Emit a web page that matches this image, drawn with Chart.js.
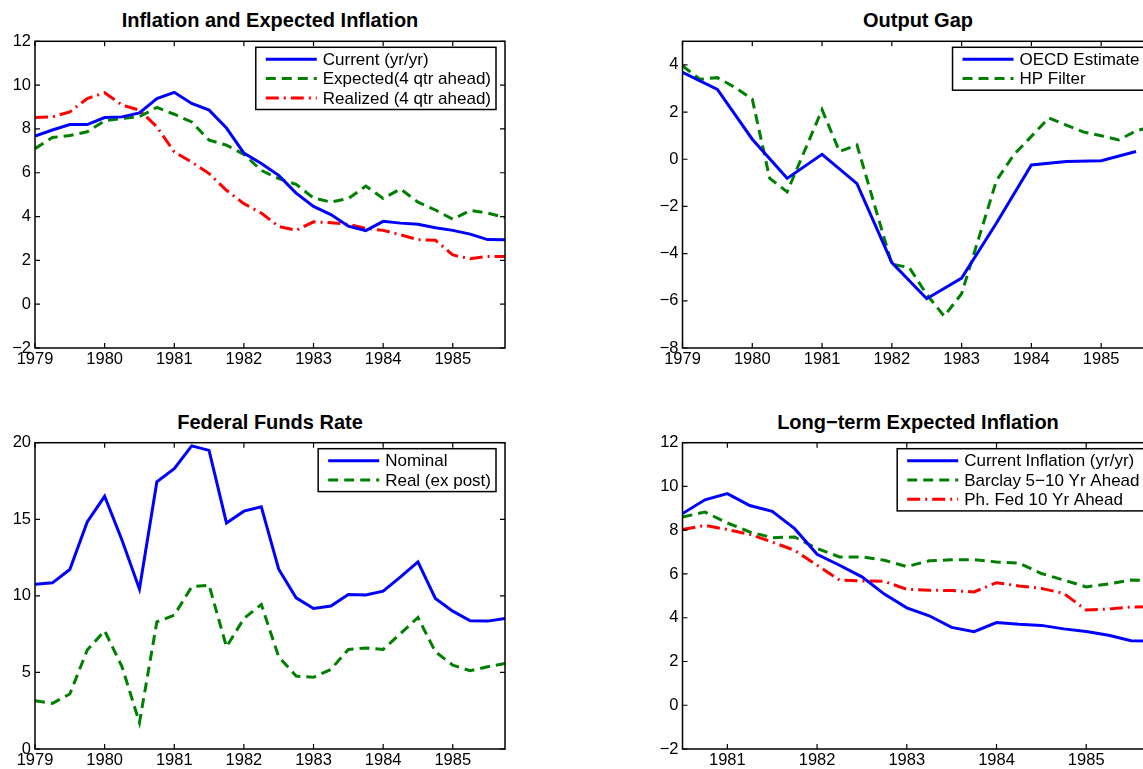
<!DOCTYPE html>
<html><head><meta charset="utf-8">
<script src="https://cdn.jsdelivr.net/npm/chart.js@4.4.1/dist/chart.umd.min.js"></script>
<style>
html,body{margin:0;padding:0;background:#fff;width:1143px;height:769px;overflow:hidden;position:relative}
canvas{position:absolute}
.title{position:absolute;font:bold 20px "Liberation Sans",Arial,sans-serif;text-align:center;white-space:nowrap;color:#000;height:24px;line-height:24px}
</style></head><body>
<div class="title" style="left:35px;top:8px;width:470px">Inflation and Expected Inflation</div>
<div class="title" style="left:682.5px;top:8px;width:471px">Output Gap</div>
<div class="title" style="left:35px;top:410px;width:470px">Federal Funds Rate</div>
<div class="title" style="left:682.5px;top:410px;width:471px">Long−term Expected Inflation</div>
<canvas id="c1" width="525" height="385" style="left:0px;top:0px"></canvas>
<canvas id="c2" width="526" height="385" style="left:647px;top:0px"></canvas>
<canvas id="c3" width="525" height="385" style="left:0px;top:400px"></canvas>
<canvas id="c4" width="526" height="385" style="left:647px;top:400px"></canvas>
<script>
// ---- categories (time axis) ----
const quarters = [1979,1979.25,1979.5,1979.75,1980,1980.25,1980.5,1980.75,1981,1981.25,1981.5,1981.75,
  1982,1982.25,1982.5,1982.75,1983,1983.25,1983.5,1983.75,1984,1984.25,1984.5,1984.75,1985,1985.25,1985.5,1985.75];
const halfYears = [1979,1979.5,1980,1980.5,1981,1981.5,1982,1982.5,1983,1983.5,1984,1984.5,1985,1985.5];
const quartersLT = [1980.5,1980.75,1981,1981.25,1981.5,1981.75,1982,1982.25,1982.5,1982.75,1983,1983.25,
  1983.5,1983.75,1984,1984.25,1984.5,1984.75,1985,1985.25,1985.5,1985.75];

// ---- series values ----
const currentInflation = [7.67,7.95,8.2,8.2,8.52,8.55,8.73,9.39,9.67,9.16,8.86,8.04,6.9,6.42,5.88,5.07,
  4.46,4.09,3.56,3.36,3.78,3.7,3.65,3.49,3.37,3.2,2.95,2.94];
const expectedInflation = [7.1,7.61,7.7,7.87,8.37,8.48,8.56,8.98,8.67,8.32,7.49,7.26,6.84,6.11,5.73,5.47,
  4.85,4.66,4.82,5.39,4.83,5.26,4.66,4.3,3.88,4.28,4.16,3.95];
const realizedInflation = [8.52,8.55,8.78,9.39,9.65,9.09,8.86,8.1,6.95,6.49,5.96,5.2,4.59,4.16,3.55,3.37,
  3.76,3.72,3.65,3.46,3.37,3.17,2.94,2.92,2.25,2.07,2.18,2.18];

const oecdGap = [3.68,2.96,0.85,-0.81,0.21,-1.03,-4.38,-5.91,-5.04,-2.7,-0.24,-0.1,-0.06,0.33];
const hpGap = [3.96,3.39,3.46,3.05,2.55,-0.81,-1.38,0.36,2.1,0.33,0.61,-1.92,-4.45,-4.59,-5.73,-6.65,
  -5.7,-3.3,-0.9,0.2,0.97,1.75,1.45,1.15,1.0,0.82,1.2,1.4];

const ffrNominal = [10.76,10.85,11.72,14.83,16.5,13.63,10.44,17.44,18.31,19.79,19.5,14.76,15.53,15.81,11.74,9.87,
  9.18,9.33,10.09,10.05,10.31,11.24,12.22,9.83,9.0,8.37,8.35,8.52];
const ffrReal = [3.15,2.98,3.59,6.46,7.72,5.37,1.72,8.3,8.74,10.59,10.7,6.67,8.52,9.44,6.02,4.76,
  4.68,5.2,6.5,6.6,6.5,7.54,8.59,6.35,5.48,5.11,5.37,5.59];

const currentInflationLT = [8.76,9.39,9.67,9.13,8.86,8.07,6.9,6.4,5.87,5.08,4.45,4.09,3.56,3.36,3.78,3.7,
  3.65,3.49,3.37,3.2,2.95,2.94];
const barclay = [8.6,8.83,8.33,7.92,7.66,7.69,7.16,6.78,6.78,6.63,6.34,6.6,6.65,6.65,6.55,6.5,6.02,5.72,5.41,5.54,5.72,5.7];
const phFed = [8.03,8.22,8.03,7.81,7.46,7.08,6.4,5.72,5.68,5.66,5.3,5.26,5.24,5.18,5.6,5.45,5.34,5.11,4.35,4.4,4.49,4.5];

// ---- tick labels ----
const yearTicks = [1979,1980,1981,1982,1983,1984,1985];
const yearTicksLT = [1981,1982,1983,1984,1985];
const inflTicks = [-2,0,2,4,6,8,10,12];
const gapTicks = [-8,-6,-4,-2,0,2,4];
const ffrTicks = [0,5,10,15,20];

// ---- styles ----
const BLUE='#0000ff', GREEN='#008000', RED='#ff0000';
const FONT='"Liberation Sans", Arial, sans-serif';
Chart.defaults.color='#000';
Chart.defaults.font.family=FONT;

function pts(xs, ys){ return ys.map((v,i)=>({x:xs[i], y:v})); }
function solid(label, xs, ys){ return {label, data:pts(xs,ys), borderColor:BLUE, borderWidth:3, borderDash:[], pointRadius:0, tension:0, fill:false}; }
function dashed(label, xs, ys){ return {label, data:pts(xs,ys), borderColor:GREEN, borderWidth:3, borderDash:[10,6], pointRadius:0, tension:0, fill:false}; }
function dashDot(label, xs, ys){ return {label, data:pts(xs,ys), borderColor:RED, borderWidth:3, borderDash:[13,5,2,5], pointRadius:0, tension:0, fill:false}; }

const matlabBox = {
  id:'matlabBox',
  afterDatasetsDraw(chart){
    const {ctx, chartArea:a} = chart;
    const xs = chart.scales.x, ys = chart.scales.y;
    ctx.save();
    ctx.strokeStyle='#000'; ctx.lineWidth=1.2; ctx.setLineDash([]);
    ctx.beginPath();
    const L=5;
    xs.ticks.forEach(t=>{ const p=xs.getPixelForValue(t.value);
      ctx.moveTo(p,a.bottom); ctx.lineTo(p,a.bottom-L); ctx.moveTo(p,a.top); ctx.lineTo(p,a.top+L); });
    ys.ticks.forEach(t=>{ const p=ys.getPixelForValue(t.value);
      ctx.moveTo(a.left,p); ctx.lineTo(a.left+L,p); ctx.moveTo(a.right,p); ctx.lineTo(a.right-L,p); });
    ctx.stroke();
    ctx.lineWidth=1.5;
    ctx.strokeRect(a.left,a.top,a.right-a.left,a.bottom-a.top);
    // legend box
    const items = chart.data.datasets;
    ctx.font = '17px '+FONT;
    const tw = Math.max(...items.map(d=>ctx.measureText(d.label).width));
    const padL=10, lineLen=51, gap=6, padR=5, rowH=19.3, padT=12, padB=11.6;
    const w = padL+lineLen+gap+tw+padR;
    const h = padT+(items.length-1)*rowH+padB;
    const right = a.right-9, top = a.top+6, left = right-w;
    ctx.fillStyle='#fff'; ctx.fillRect(left,top,w,h);
    ctx.strokeStyle='#000'; ctx.lineWidth=1.5; ctx.strokeRect(left,top,w,h);
    items.forEach((d,i)=>{
      const cy = top+padT+i*rowH;
      ctx.save();
      ctx.strokeStyle=d.borderColor; ctx.lineWidth=d.borderWidth; ctx.setLineDash(d.borderDash||[]);
      ctx.beginPath(); ctx.moveTo(left+padL,cy); ctx.lineTo(left+padL+lineLen,cy); ctx.stroke();
      ctx.restore();
      ctx.fillStyle='#000'; ctx.textBaseline='middle'; ctx.textAlign='left';
      ctx.fillText(d.label, left+padL+lineLen+gap, cy+1);
    });
    ctx.restore();
  }
};

const fmtY = v => v<0 ? '\u2212'+Math.abs(v) : String(v);

function makeChart(id, c){
  new Chart(document.getElementById(id), {
    type:'line',
    data:{datasets:c.datasets},
    plugins:[matlabBox],
    options:{
      responsive:false, animation:false, devicePixelRatio:1,
      layout:{padding:{top:c.padTop, right:c.padRight, left:0, bottom:0}},
      plugins:{legend:{display:false}, title:{display:false}, tooltip:{enabled:false}},
      scales:{
        x:{type:'linear', min:c.xMin, max:c.xMax,
          afterBuildTicks:s=>{ s.ticks = c.xTicks.map(v=>({value:v})); },
          afterFit:s=>{ s.height=c.xHeight; },
          grid:{display:false, drawTicks:false}, border:{display:false},
          ticks:{padding:2, autoSkip:false, maxRotation:0, color:'#000', font:{size:16.5, family:FONT}, callback:v=>String(v)}},
        y:{type:'linear', min:c.yMin, max:c.yMax,
          afterBuildTicks:s=>{ s.ticks = c.yTicks.map(v=>({value:v})); },
          afterFit:s=>{ s.width=c.yWidth; },
          grid:{display:false, drawTicks:false}, border:{display:false},
          ticks:{padding:4, autoSkip:false, color:'#000', font:{size:16.5, family:FONT}, callback:fmtY}}
      }
    }
  });
}

makeChart('c1', {padTop:41.3, padRight:20, yWidth:35, xHeight:37, xMin:1979, xMax:1985.75, xTicks:yearTicks,
  yMin:-2, yMax:12, yTicks:inflTicks,
  datasets:[solid('Current (yr/yr)', quarters, currentInflation),
            dashed('Expected(4 qtr ahead)', quarters, expectedInflation),
            dashDot('Realized (4 qtr ahead)', quarters, realizedInflation)]});

makeChart('c2', {padTop:41.3, padRight:19.5, yWidth:35.5, xHeight:37, xMin:1979, xMax:1985.75, xTicks:yearTicks,
  yMin:-8, yMax:5, yTicks:gapTicks,
  datasets:[solid('OECD Estimate', halfYears, oecdGap),
            dashed('HP Filter', quarters, hpGap)]});

makeChart('c3', {padTop:42.7, padRight:20, yWidth:35, xHeight:36, xMin:1979, xMax:1985.75, xTicks:yearTicks,
  yMin:0, yMax:20, yTicks:ffrTicks,
  datasets:[solid('Nominal', quarters, ffrNominal),
            dashed('Real (ex post)', quarters, ffrReal)]});

makeChart('c4', {padTop:42.7, padRight:19.5, yWidth:35.5, xHeight:36, xMin:1980.5, xMax:1985.75, xTicks:yearTicksLT,
  yMin:-2, yMax:12, yTicks:inflTicks,
  datasets:[solid('Current Inflation (yr/yr)', quartersLT, currentInflationLT),
            dashed('Barclay 5\u221210 Yr Ahead', quartersLT, barclay),
            dashDot('Ph. Fed 10 Yr Ahead', quartersLT, phFed)]});
</script>
</body></html>
